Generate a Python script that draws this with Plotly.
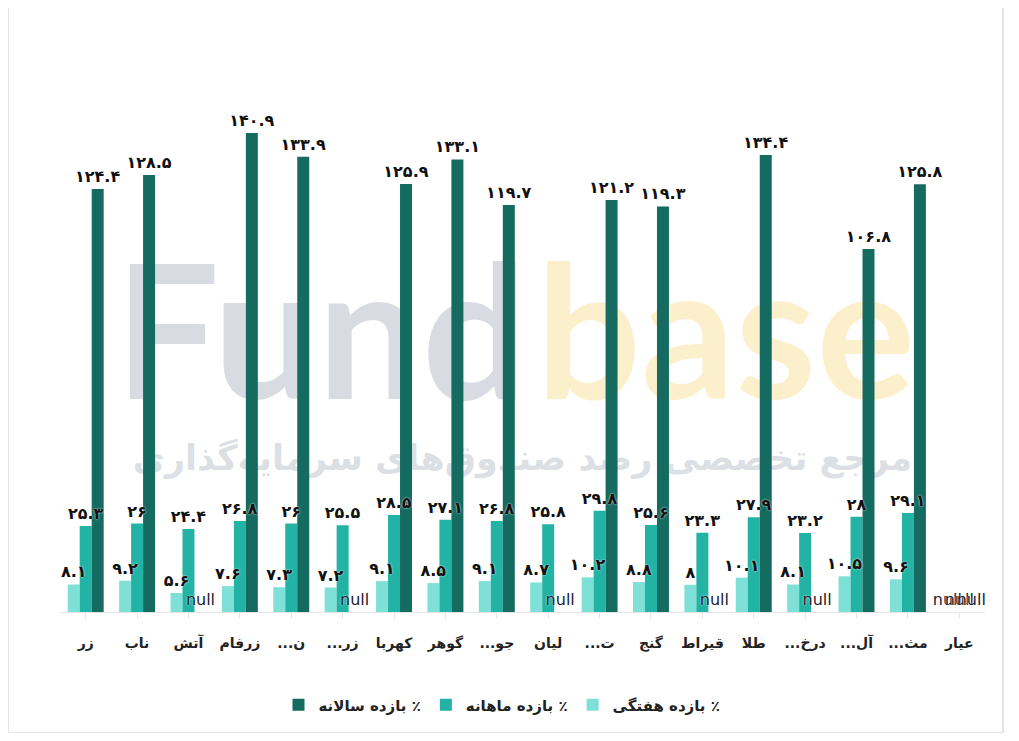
import plotly.graph_objects as go

categories = ["زر", "ناب", "آتش", "زرفام", "ن...", "زر...", "کهربا", "گوهر", "جو...",
              "لیان", "ت...", "گنج", "قیراط", "طلا", "درخ...", "آل...", "مث...", "عیار"]
weekly = [8.1, 9.2, 5.6, 7.6, 7.3, 7.2, 9.1, 8.5, 9.1, 8.7, 10.2, 8.8, 8, 10.1, 8.1, 10.5, 9.6, None]
monthly = [25.3, 26, 24.4, 26.8, 26, 25.5, 28.5, 27.1, 26.8, 25.8, 29.8, 25.6, 23.3, 27.9, 23.2, 28, 29.1, None]
yearly = [124.4, 128.5, None, 140.9, 133.9, None, 125.9, 133.1, 119.7, None, 121.2, 119.3, None, 134.4, None, 106.8, 125.8, None]
series_names = ["بازده هفتگی ٪", "بازده ماهانه ٪", "بازده سالانه ٪"]
colors = ["#7FE0D7", "#22B3A4", "#166B60"]

FA = str.maketrans("0123456789", "۰۱۲۳۴۵۶۷۸۹")


def fa(v):
    return ("%g" % v).translate(FA)


def tick_text(c):
    # the SVG label is laid out right-to-left, so a leading ellipsis shows on the right
    if c.endswith("..."):
        return "..." + c[:-3]
    return c


# page has an 8px body margin; coordinates below are in screenshot pixels
OFF = 8
W, H = 1003, 725
L, R, T, B = 60 - OFF, 34 - OFF, 102 - OFF, 129 - OFF
PW, PH = W - L - R, H - T - B


def px(x):
    return (x - OFF - L) / PW


def py(y):
    return (H - B - (y - OFF)) / PH


fig = go.Figure()
series = [weekly, monthly, yearly]
for i, (name, vals, col) in enumerate(zip(series_names, series, colors)):
    ys = [v if v is not None else 0 for v in vals]
    fig.add_trace(go.Bar(
        x=categories, y=ys, name=name, offsetgroup=str(i),
        marker=dict(color=col, line=dict(width=0)), hoverinfo="skip",
    ))

# label layers drawn after all bars so that labels sit on top
for i, vals in enumerate(series):
    ys = [v if v is not None else 0 for v in vals]
    txt = [fa(v) if v is not None else "null" for v in vals]
    tcol = ["#111111" if v is not None else "#1c1c30" for v in vals]
    tw = ["bold" if v is not None else "normal" for v in vals]
    fig.add_trace(go.Bar(
        x=categories, y=ys, offsetgroup=str(i), showlegend=False,
        marker=dict(color="rgba(0,0,0,0)", line=dict(width=0)),
        text=txt, textposition="outside", cliponaxis=False, constraintext="none",
        textfont=dict(family="DejaVu Sans", size=16, color=tcol, weight=tw,
                      shadow="0px 0px 2px #ffffff"),
        hoverinfo="skip",
    ))

shapes = [
    dict(type="rect", xref="paper", yref="paper", x0=px(8), x1=px(1003), y0=py(733), y1=py(7),
         line=dict(color="#e4e4e4", width=2), fillcolor="rgba(0,0,0,0)", layer="below"),
    dict(type="rect", xref="paper", yref="paper", x0=px(112), x1=px(530), y0=py(405), y1=py(245),
         line=dict(width=0), fillcolor="rgba(0,0,0,0)", layer="below",
         label=dict(text="Fund", textposition="middle left", padding=0,
                    font=dict(family="Lato", size=185, color="#d8dbe1", weight="bold"))),
    dict(type="rect", xref="paper", yref="paper", x0=px(520), x1=px(918), y0=py(405), y1=py(245),
         line=dict(width=0), fillcolor="rgba(0,0,0,0)", layer="below",
         label=dict(text="base", textposition="middle right", padding=0,
                    font=dict(family="Lato", size=185, color="#fcf0cc", weight="bold"))),
    dict(type="rect", xref="paper", yref="paper", x0=px(125), x1=px(920), y0=py(480), y1=py(430),
         line=dict(width=0), fillcolor="rgba(0,0,0,0)", layer="below",
         label=dict(text="مرجع تخصصی رصد صندوق‌های سرمایه‌گذاری", textposition="middle center",
                    padding=0, font=dict(family="DejaVu Sans", size=35, color="#dcdfe4", weight="bold"))),
]

fig.update_layout(
    width=W, height=H,
    margin=dict(l=L, r=R, t=T, b=B, autoexpand=False),
    paper_bgcolor="#ffffff", plot_bgcolor="rgba(0,0,0,0)",
    barmode="group", bargap=0.3, bargroupgap=0,
    showlegend=True,
    legend=dict(orientation="h", x=px(502), xanchor="center", y=py(705), yanchor="middle",
                traceorder="reversed",
                font=dict(family="DejaVu Sans", size=15, color="#222222", weight="bold")),
    xaxis=dict(type="category", showline=True, linecolor="#e6e6e6", linewidth=1,
               ticks="outside", ticklen=6, tickcolor="#e6e6e6", showgrid=False,
               tickmode="array", tickvals=categories,
               ticktext=[tick_text(c) for c in categories],
               tickfont=dict(family="DejaVu Sans", size=14, color="#222222", weight="bold"),
               ticklabelstandoff=12, fixedrange=True),
    yaxis=dict(visible=False, range=[0, 150], showgrid=False, zeroline=False, fixedrange=True),
    shapes=shapes,
    font=dict(family="DejaVu Sans"),
)

fig.write_html("out.html")
